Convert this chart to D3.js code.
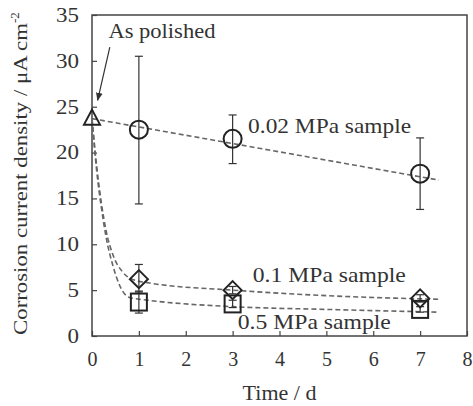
<!DOCTYPE html>
<html>
<head>
<meta charset="utf-8">
<script src="https://cdn.jsdelivr.net/npm/d3@7"></script>
<style>
  body { margin: 0; background: #fff; }
  text { font-family: 'Liberation Serif', 'Times New Roman', serif; fill: #333; }
</style>
</head>
<body>
<div id="chart"></div>
<script>
const xTicks = [0, 1, 2, 3, 4, 5, 6, 7, 8];
const yTicks = [0, 5, 10, 15, 20, 25, 30, 35];

// as polished (t = 0)
const polished = [{ t: 0, v: 23.7 }];

// measured points with error bars
const mpa002 = [
  { t: 1, v: 22.5, lo: 14.4, hi: 30.5 },
  { t: 3, v: 21.5, lo: 18.8, hi: 24.1 },
  { t: 7, v: 17.7, lo: 13.8, hi: 21.6 }
];
const mpa01 = [
  { t: 1, v: 6.2, lo: 4.8, hi: 7.8 },
  { t: 3, v: 5.0, lo: 4.6, hi: 5.4 },
  { t: 7, v: 4.1, lo: 3.7, hi: 4.5 }
];
const mpa05 = [
  { t: 1, v: 3.7, lo: 2.5, hi: 4.9 },
  { t: 3, v: 3.5, lo: 3.1, hi: 3.9 },
  { t: 7, v: 2.9, lo: 2.6, hi: 3.2 }
];

// dashed fit curves
const fit002 = [[0, 23.7], [7.4, 17.0]];
const fit01 = [[0, 23.7], [0.1, 18.5], [0.2, 14.5], [0.3, 11.5], [0.45, 8.8], [0.65, 7.0], [0.85, 6.2], [1.2, 5.8], [3, 5.0], [5, 4.4], [7.4, 4.0]];
const fit05 = [[0, 23.7], [0.1, 18], [0.2, 14], [0.3, 10.8], [0.45, 7.6], [0.6, 5.4], [0.8, 4.2], [1.2, 3.9], [3, 3.2], [5, 2.9], [7.4, 2.6]];

const labels = [
  { text: '0.02 MPa sample', t: 3.33, v: 22.1, w: 163 },
  { text: '0.1 MPa sample', t: 3.43, v: 5.9, w: 153 },
  { text: '0.5 MPa sample', t: 3.11, v: 0.75, w: 153 }
];

const width = 473;
const height = 406;
const margin = { top: 15, right: 6, bottom: 70, left: 92 };
const graphWidth = width - margin.left - margin.right;
const graphHeight = height - margin.top - margin.bottom;

const svg = d3.select('#chart')
  .append('svg')
  .attr('width', width)
  .attr('height', height);

const fx = d3.scaleLinear().domain([0, 8]).range([0, graphWidth]);
const fy = d3.scaleLinear().domain([0, 35]).range([graphHeight, 0]);

const graph = svg.append('g')
  .attr('transform', `translate(${margin.left}, ${margin.top})`);

// frame
graph.append('rect')
  .attr('width', graphWidth)
  .attr('height', graphHeight)
  .attr('fill', 'none')
  .attr('stroke', '#444')
  .attr('stroke-width', 1.5);

const xAxis = graph.append('g')
  .attr('transform', `translate(0, ${graphHeight})`)
  .call(d3.axisBottom(fx).tickValues(xTicks).tickSize(-5).tickPadding(12));

const yAxis = graph.append('g')
  .call(d3.axisLeft(fy).tickValues(yTicks).tickSize(-5).tickPadding(13));

[xAxis, yAxis].forEach(ax => {
  ax.select('.domain').remove();
  ax.selectAll('line').attr('stroke', '#444').attr('stroke-width', 1.2);
  ax.selectAll('text')
    .attr('font-family', "'Liberation Serif', serif")
    .attr('font-size', 20)
    .attr('fill', '#333');
});
xAxis.selectAll('text').attr('dy', '0.9em');
yAxis.selectAll('text').attr('textLength', function () { return this.textContent.length * 11.5; })
  .attr('lengthAdjust', 'spacingAndGlyphs');

// axis titles
svg.append('text')
  .attr('x', margin.left + graphWidth / 2)
  .attr('y', 400)
  .attr('text-anchor', 'middle')
  .attr('font-size', 22)
  .text('Time / d');

const yTitle = svg.append('text')
  .attr('transform', 'translate(27, 335) rotate(-90)')
  .attr('font-size', 19);
yTitle.append('tspan')
  .attr('textLength', 312)
  .attr('lengthAdjust', 'spacingAndGlyphs')
  .text('Corrosion current density / μA cm');
yTitle.append('tspan').attr('dy', -8).attr('font-size', 13).text('-2');

// dashed fits
const line = d3.line()
  .x(d => fx(d[0]))
  .y(d => fy(d[1]))
  .curve(d3.curveMonotoneX);

graph.selectAll('.fit')
  .data([fit002, fit01, fit05])
  .join('path')
  .attr('class', 'fit')
  .attr('d', line)
  .attr('fill', 'none')
  .attr('stroke', '#666')
  .attr('stroke-width', 1.6)
  .attr('stroke-dasharray', '5,3');

// error bars
const allPoints = [...mpa002, ...mpa01, ...mpa05];
const cap = 4;
const bars = graph.selectAll('.err')
  .data(allPoints)
  .join('g')
  .attr('class', 'err')
  .attr('stroke', '#333')
  .attr('stroke-width', 1.2);
bars.append('line')
  .attr('x1', d => fx(d.t)).attr('x2', d => fx(d.t))
  .attr('y1', d => fy(d.lo)).attr('y2', d => fy(d.hi));
bars.append('line')
  .attr('x1', d => fx(d.t) - cap).attr('x2', d => fx(d.t) + cap)
  .attr('y1', d => fy(d.lo)).attr('y2', d => fy(d.lo));
bars.append('line')
  .attr('x1', d => fx(d.t) - cap).attr('x2', d => fx(d.t) + cap)
  .attr('y1', d => fy(d.hi)).attr('y2', d => fy(d.hi));

// markers
const markerStyle = sel => sel
  .attr('fill', 'none')
  .attr('stroke', '#222')
  .attr('stroke-width', 2);

graph.selectAll('.sq')
  .data(mpa05)
  .join('rect')
  .attr('class', 'sq')
  .attr('x', d => fx(d.t) - 8)
  .attr('y', d => fy(d.v) - 8.5)
  .attr('width', 16)
  .attr('height', 17)
  .call(markerStyle);

graph.selectAll('.dia')
  .data(mpa01)
  .join('path')
  .attr('class', 'dia')
  .attr('transform', d => `translate(${fx(d.t)}, ${fy(d.v)})`)
  .attr('d', 'M0,-9L9,0L0,9L-9,0Z')
  .call(markerStyle);

graph.selectAll('.circ')
  .data(mpa002)
  .join('circle')
  .attr('class', 'circ')
  .attr('cx', d => fx(d.t))
  .attr('cy', d => fy(d.v))
  .attr('r', 9)
  .call(markerStyle);

graph.selectAll('.tri')
  .data(polished)
  .join('path')
  .attr('class', 'tri')
  .attr('transform', d => `translate(${fx(d.t)}, ${fy(d.v)})`)
  .attr('d', 'M0,-9L8,6L-8,6Z')
  .call(markerStyle);

// series labels
graph.selectAll('.lbl')
  .data(labels)
  .join('text')
  .attr('class', 'lbl')
  .attr('x', d => fx(d.t))
  .attr('y', d => fy(d.v))
  .attr('font-size', 22)
  .attr('textLength', d => d.w)
  .attr('lengthAdjust', 'spacingAndGlyphs')
  .text(d => d.text);

// "As polished" annotation
graph.append('text')
  .attr('x', fx(0.35))
  .attr('y', fy(32.5))
  .attr('font-size', 22)
  .attr('textLength', 107)
  .attr('lengthAdjust', 'spacingAndGlyphs')
  .text('As polished');

svg.append('defs').append('marker')
  .attr('id', 'arrow')
  .attr('viewBox', '0 0 10 10')
  .attr('refX', 9).attr('refY', 5)
  .attr('markerWidth', 7).attr('markerHeight', 7)
  .attr('orient', 'auto')
  .append('path')
  .attr('d', 'M0,1L10,5L0,9Z')
  .attr('fill', '#333');

graph.append('line')
  .attr('x1', fx(0.38)).attr('y1', fy(31.5))
  .attr('x2', fx(0.12)).attr('y2', fy(25.7))
  .attr('stroke', '#333')
  .attr('stroke-width', 1.2)
  .attr('marker-end', 'url(#arrow)');
</script>
</body>
</html>
